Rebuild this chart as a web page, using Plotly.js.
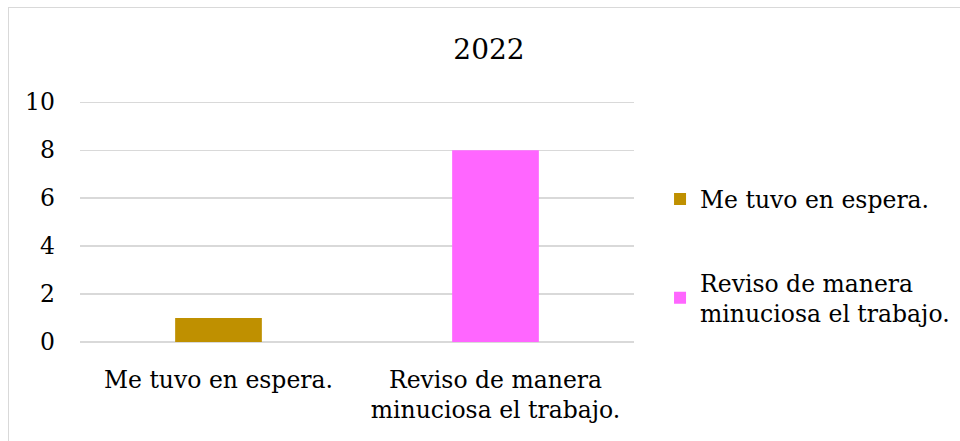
<!DOCTYPE html>
<html>
<head>
<meta charset="utf-8">
<script src="https://cdn.plot.ly/plotly-3.0.1.min.js"></script>
<style>
html,body{margin:0;padding:0;background:#fff;}
#wrap{position:relative;width:960px;height:441px;overflow:hidden;}
#chart{width:960px;height:441px;}
#frame{position:absolute;left:8px;top:7px;width:980px;height:460px;border:1.5px solid #d9d9d9;pointer-events:none;box-sizing:border-box;}
</style>
</head>
<body>
<div id="wrap"><div id="chart"></div><div id="frame"></div></div>
<script>
const chartTitle = "2022";
const categories = ["Me tuvo en espera.", "Reviso de manera minuciosa el trabajo."];
const tickLabels = ["Me tuvo en espera.", "Reviso de manera<br>minuciosa el trabajo."];
const legendLabels = ["Me tuvo en espera.", "Reviso de manera<br>minuciosa el trabajo."];
const values = [1, 8];
const colors = ["#BF9000", "#FF66FF"];
const yTicks = [0, 2, 4, 6, 8, 10];

const FONT = "DejaVu Serif";
const FS = 23.5;

const traces = categories.map((c, i) => ({
  type: "bar",
  x: [c],
  y: [values[i]],
  name: legendLabels[i],
  legendgroup: "g" + i,
  width: 0.313,
  marker: {color: colors[i]},
  hoverinfo: "x+y"
}));

const layout = {
  width: 960,
  height: 441,
  paper_bgcolor: "#ffffff",
  plot_bgcolor: "#ffffff",
  margin: {l: 80, r: 326, t: 100.8, b: 98.5, autoexpand: false},
  barmode: "overlay",
  font: {family: FONT, size: FS, color: "#000000"},
  title: {
    text: chartTitle,
    font: {family: FONT, size: 28, color: "#000000"},
    x: 489 / 960, xref: "container", xanchor: "center",
    y: 1 - 49 / 441, yref: "container", yanchor: "middle"
  },
  xaxis: {
    type: "category",
    categoryorder: "array",
    categoryarray: categories,
    tickvals: categories,
    ticktext: tickLabels,
    showgrid: false,
    showline: false,
    zeroline: false,
    ticks: "",
    ticklabelstandoff: 21,
    tickfont: {family: FONT, size: FS, color: "#000000"}
  },
  yaxis: {
    range: [0, 10.05],
    tickvals: yTicks,
    ticktext: yTicks.map(String),
    showgrid: true,
    gridcolor: "#d9d9d9",
    gridwidth: 1.3,
    zeroline: true,
    zerolinecolor: "#d9d9d9",
    zerolinewidth: 1.3,
    showline: false,
    ticks: "",
    ticklabelstandoff: 24,
    tickfont: {family: FONT, size: FS, color: "#000000"}
  },
  showlegend: true,
  legend: {
    x: 1.047, xanchor: "left",
    y: 0.356, yanchor: "middle",
    traceorder: "grouped",
    tracegroupgap: 50,
    font: {family: FONT, size: FS, color: "#000000"},
    bgcolor: "rgba(0,0,0,0)",
    itemclick: false
  }
};

Plotly.newPlot("chart", traces, layout, {displayModeBar: false, staticPlot: true});
</script>
</body>
</html>
